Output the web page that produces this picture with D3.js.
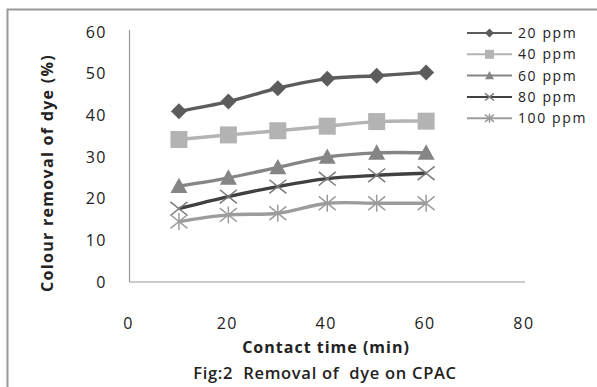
<!DOCTYPE html>
<html>
<head>
<meta charset="utf-8">
<script src="https://cdn.jsdelivr.net/npm/d3@7"></script>
<style>
  body { margin: 0; background: #fff; }
  text { font-family: "Open Sans", "Liberation Sans", sans-serif; fill: #222; }
</style>
</head>
<body>
<div id="chart"></div>
<script>
// contact time (min)
var times = [10, 20, 30, 40, 50, 60];
var seriesNames = ["20 ppm", "40 ppm", "60 ppm", "80 ppm", "100 ppm"];
var ppm20 = [41.0, 43.3, 46.5, 48.8, 49.5, 50.3];
var ppm40 = [34.2, 35.3, 36.3, 37.4, 38.5, 38.6];
var ppm60 = [23.0, 25.0, 27.5, 30.0, 31.0, 31.0];
var ppm80 = [17.6, 20.5, 22.9, 24.8, 25.6, 26.1];
var ppm100 = [14.5, 16.1, 16.5, 18.9, 18.9, 18.9];
var xTicks = [0, 20, 40, 60, 80];
var yTicks = [0, 10, 20, 30, 40, 50, 60];

var w = 597, h = 387;

var svg = d3.select("#chart").append("svg")
  .attr("width", w)
  .attr("height", h);

// outer frame (only top and left edges show in the crop)
svg.append("path")
  .attr("d", "M7.5,387 V9.5 H597")
  .attr("fill", "none")
  .attr("stroke", "#999")
  .attr("stroke-width", 2);

var x = d3.scaleLinear().domain([0, 80]).range([129.5, 525]);
var y = d3.scaleLinear().domain([0, 60]).range([282, 32]);

// axis lines
svg.append("line")
  .attr("x1", x(0)).attr("x2", x(0))
  .attr("y1", y(60) - 2).attr("y2", y(0))
  .attr("stroke", "#999").attr("stroke-width", 1.2);
svg.append("line")
  .attr("x1", x(0)).attr("x2", x(80))
  .attr("y1", y(0)).attr("y2", y(0))
  .attr("stroke", "#999").attr("stroke-width", 1.2);

svg.selectAll("text.ytick")
  .data(yTicks)
  .enter().append("text")
  .attr("class", "ytick")
  .attr("x", 107)
  .attr("y", function(d) { return y(d); })
  .attr("dy", "0.35em")
  .attr("text-anchor", "end")
  .style("font-size", "16px")
  .style("letter-spacing", "1.5px")
  .text(function(d) { return d; });

svg.selectAll("text.xtick")
  .data(xTicks)
  .enter().append("text")
  .attr("class", "xtick")
  .attr("x", function(d) { return x(d) - 1; })
  .attr("y", 323)
  .attr("dy", "0.35em")
  .attr("text-anchor", "middle")
  .style("font-size", "16px")
  .style("letter-spacing", "1.5px")
  .text(function(d) { return d; });

svg.append("text")
  .attr("transform", "translate(47,173) rotate(-90)")
  .attr("text-anchor", "middle")
  .attr("dy", "0.35em")
  .style("font-size", "16px")
  .style("font-weight", "bold")
  .style("letter-spacing", "1.3px")
  .text("Colour removal of dye (%)");

svg.append("text")
  .attr("x", 326).attr("y", 347)
  .attr("dy", "0.35em")
  .attr("text-anchor", "middle")
  .style("font-size", "16px")
  .style("font-weight", "bold")
  .style("letter-spacing", "1px")
  .text("Contact time (min)");

svg.append("text")
  .attr("x", 325).attr("y", 373)
  .attr("dy", "0.35em")
  .attr("text-anchor", "middle")
  .style("font-size", "16.5px")
  .style("font-weight", "600")
  .style("letter-spacing", "0.7px")
  .style("white-space", "pre")
  .text("Fig:2  Removal of  dye on CPAC");

var series = [
  { name: seriesNames[0], values: ppm20, line: "#5c5c5c", mark: "#5c5c5c", shape: "diamond" },
  { name: seriesNames[1], values: ppm40, line: "#b3b3b3", mark: "#b3b3b3", shape: "square" },
  { name: seriesNames[2], values: ppm60, line: "#858585", mark: "#858585", shape: "triangle" },
  { name: seriesNames[3], values: ppm80, line: "#404040", mark: "#7a7a7a", shape: "x" },
  { name: seriesNames[4], values: ppm100, line: "#9c9c9c", mark: "#9c9c9c", shape: "star" }
];

var line = d3.line()
  .x(function(d) { return x(d[0]); })
  .y(function(d) { return y(d[1]); })
  .curve(d3.curveCatmullRom.alpha(0.5));

function drawMarker(g, shape, color, size) {
  var s = size / 2;
  if (shape === "diamond") {
    g.append("path").attr("d", "M0," + (-s) + "L" + s + ",0L0," + s + "L" + (-s) + ",0Z").attr("fill", color);
  } else if (shape === "square") {
    g.append("rect").attr("x", -s).attr("y", -s).attr("width", size).attr("height", size).attr("fill", color);
  } else if (shape === "triangle") {
    g.append("path").attr("d", "M0," + (-s) + "L" + s + "," + (s * 0.8) + "L" + (-s) + "," + (s * 0.8) + "Z").attr("fill", color);
  } else if (shape === "x") {
    g.append("path").attr("d", "M" + (-s) + "," + (-s * 0.8) + "L" + s + "," + (s * 0.8) + "M" + (-s) + "," + (s * 0.8) + "L" + s + "," + (-s * 0.8))
      .attr("stroke", color).attr("stroke-width", 1.5);
  } else {
    g.append("path").attr("d", "M" + (-s) + "," + (-s * 0.8) + "L" + s + "," + (s * 0.8) + "M" + (-s) + "," + (s * 0.8) + "L" + s + "," + (-s * 0.8) + "M0," + (-s) + "V" + s)
      .attr("stroke", color).attr("stroke-width", 1.5);
  }
}

series.forEach(function(s) {
  var pts = times.map(function(t, i) { return [t, s.values[i]]; });
  svg.append("path")
    .datum(pts)
    .attr("d", line)
    .attr("fill", "none")
    .attr("stroke", s.line)
    .attr("stroke-width", 3.4);
});

series.forEach(function(s) {
  var pts = times.map(function(t, i) { return [t, s.values[i]]; });
  svg.selectAll(null)
    .data(pts)
    .enter().append("g")
    .attr("transform", function(d) { return "translate(" + x(d[0]) + "," + y(d[1]) + ")"; })
    .each(function() { drawMarker(d3.select(this), s.shape, s.mark, s.shape === "diamond" ? 16 : 17); });
});

// legend
var legend = svg.append("g");
series.forEach(function(s, i) {
  var ly = 33 + i * 21.3;
  var g = legend.append("g").attr("transform", "translate(0," + ly + ")");
  g.append("line").attr("x1", 467).attr("x2", 512).attr("y1", 0).attr("y2", 0)
    .attr("stroke", s.line).attr("stroke-width", 2);
  var m = g.append("g").attr("transform", "translate(489.5,0)");
  drawMarker(m, s.shape, s.mark, 9);
  g.append("text")
    .attr("x", 518).attr("y", 0).attr("dy", "0.35em")
    .style("font-size", "14px")
    .style("letter-spacing", "1.6px")
    .text(s.name);
});
</script>
</body>
</html>
